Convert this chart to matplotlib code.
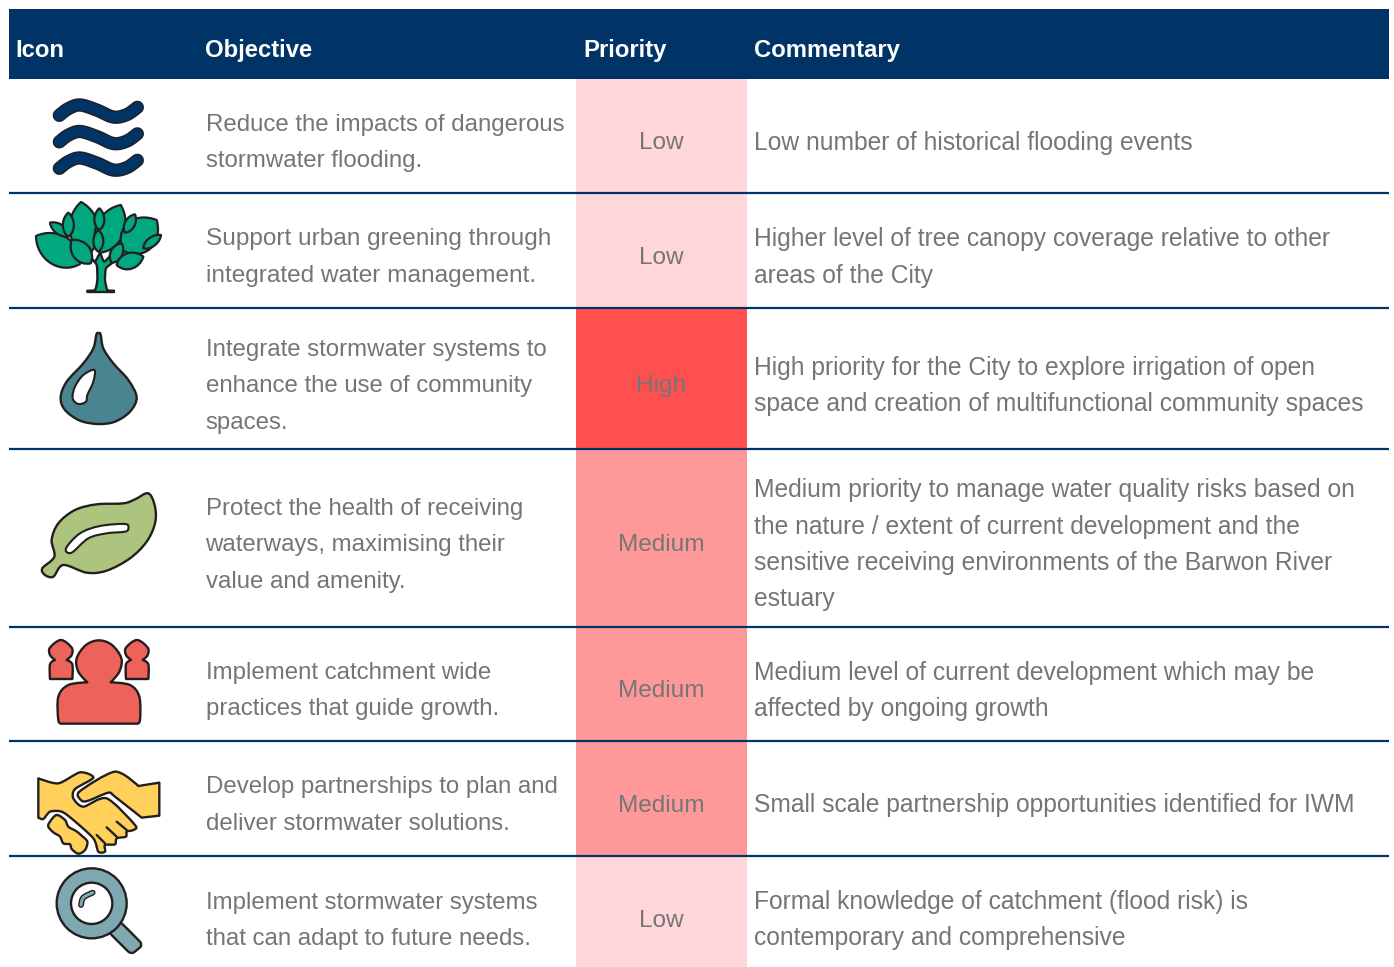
import numpy as np
import matplotlib
matplotlib.use("Agg")
import matplotlib.pyplot as plt
from matplotlib.path import Path
from matplotlib.patches import PathPatch, Rectangle

plt.rcParams['font.family'] = ['Liberation Sans', 'DejaVu Sans']

headers = ["Icon", "Objective", "Priority", "Commentary"]
objectives = [
    ["Reduce the impacts of dangerous", "stormwater flooding."],
    ["Support urban greening through", "integrated water management."],
    ["Integrate stormwater systems to", "enhance the use of community", "spaces."],
    ["Protect the health of receiving", "waterways, maximising their", "value and amenity."],
    ["Implement catchment wide", "practices that guide growth."],
    ["Develop partnerships to plan and", "deliver stormwater solutions."],
    ["Implement stormwater systems", "that can adapt to future needs."],
]
priorities = ["Low", "Low", "High", "Medium", "Medium", "Medium", "Low"]
commentary = [
    ["Low number of historical flooding events"],
    ["Higher level of tree canopy coverage relative to other", "areas of the City"],
    ["High priority for the City to explore irrigation of open",
     "space and creation of multifunctional community spaces"],
    ["Medium priority to manage water quality risks based on",
     "the nature / extent of current development and the",
     "sensitive receiving environments of the Barwon River", "estuary"],
    ["Medium level of current development which may be", "affected by ongoing growth"],
    ["Small scale partnership opportunities identified for IWM"],
    ["Formal knowledge of catchment (flood risk) is", "contemporary and comprehensive"],
]
priority_colors = {"Low": "#FFD7DA", "Medium": "#FF9999", "High": "#FF5050"}

NAVY = "#003366"
GREY = "#757575"
INK = "#231F20"
row_edges = [79, 193, 308, 449, 627, 741, 856, 967]
text_centers = [141, 255.5, 384, 543, 689, 803.5, 918.5]
objective_sizes = [17.25, 17.6, 17.25, 17.25, 17.25, 17.25, 17.25]
LINE = 36.4
FS_COMMENT = 17.7
FS_PRIORITY = 17.6
FS_HEADER = 17.2

fig = plt.figure(figsize=(13.94, 9.67), dpi=100)
ax = fig.add_axes([0, 0, 1, 1])
ax.set_xlim(0, 1394)
ax.set_ylim(967, 0)
ax.axis("off")


def smooth(pts, k=0.5):
    """Closed Catmull-Rom outline; a point listed twice becomes a sharp corner."""
    clean, corner = [], []
    for q in pts:
        if clean and tuple(clean[-1]) == tuple(q):
            corner[-1] = True
        else:
            clean.append(q)
            corner.append(False)
    p = np.array(clean, float)
    n = len(p)
    tan = [np.zeros(2) if corner[i] else (p[(i + 1) % n] - p[i - 1]) * k / 3 for i in range(n)]
    v = [p[0]]
    c = [Path.MOVETO]
    for i in range(n):
        j = (i + 1) % n
        v += [p[i] + tan[i], p[j] - tan[j], p[j]]
        c += [Path.CURVE4] * 3
    v.append(p[0])
    c.append(Path.CLOSEPOLY)
    return v, c


def shape(pts, off, color, k=0.5, lw=1.7, z=3, ec=INK):
    pts = [(x / 3 + off[0], y / 3 + off[1]) for x, y in pts]
    v, c = smooth(pts, k)
    ax.add_patch(PathPatch(Path(v, c), fc=color, ec=ec, lw=lw, zorder=z, joinstyle="round"))


def leaf(a, b, w, off, color="#00A77F", z=3):
    a = np.array(a, float)
    b = np.array(b, float)
    d = b - a
    nrm = np.array([-d[1], d[0]]) / np.hypot(*d)
    c1a, c1b = a + d * 0.25 + nrm * w, a + d * 0.8 + nrm * w
    c2a, c2b = a + d * 0.8 - nrm * w, a + d * 0.25 - nrm * w
    o = np.array(off)
    pts = [a, c1a, c1b, b, c2a, c2b, a, a]
    v = [q / 3 + o for q in pts]
    c = [Path.MOVETO] + [Path.CURVE4] * 6 + [Path.CLOSEPOLY]
    ax.add_patch(PathPatch(Path(v, c), fc=color, ec=INK, lw=1.6, zorder=z, joinstyle="round"))


def tube(pts, off, color, w_in, w_out, z=3):
    pts = np.array(pts, float) / 3 + np.array(off)
    ts = np.linspace(0, len(pts) - 1, 120)
    out = []
    P = np.vstack([pts[0], pts, pts[-1]])
    for s in ts:
        i = min(int(s), len(pts) - 2)
        u = s - i
        p0, p1, p2, p3 = P[i], P[i + 1], P[i + 2], P[i + 3]
        out.append(0.5 * (2 * p1 + (p2 - p0) * u + (2 * p0 - 5 * p1 + 4 * p2 - p3) * u ** 2
                          + (3 * p1 - p0 - 3 * p2 + p3) * u ** 3))
    out = np.array(out)
    ax.plot(out[:, 0], out[:, 1], color=INK, lw=w_out, solid_capstyle="round", zorder=z)
    ax.plot(out[:, 0], out[:, 1], color=color, lw=w_in, solid_capstyle="round", zorder=z + 0.1)


# ---------- table ----------
ax.add_patch(Rectangle((9, 9), 1380, 70, fc=NAVY, ec="none", zorder=1))
for label, x in zip(headers, [15.5, 205.5, 583.5, 754]):
    ax.text(x, 57.2, label, color="white", fontsize=FS_HEADER, fontweight="bold", va="baseline", zorder=5)

for i, pr in enumerate(priorities):
    ax.add_patch(Rectangle((576, row_edges[i]), 171, row_edges[i + 1] - row_edges[i],
                           fc=priority_colors[pr], ec="none", zorder=1))
    yc = text_centers[i]
    ax.text(661, yc + 8.3, pr, color=GREY, fontsize=FS_PRIORITY, ha="center", va="baseline", zorder=5)
    for col_x, lines, fs, dy in ((205.5, objectives[i], objective_sizes[i], 8.2),
                                 (754, commentary[i], FS_COMMENT, 8.8)):
        for j, line in enumerate(lines):
            y = yc + (j - (len(lines) - 1) / 2) * LINE + dy
            ax.text(col_x, y, line, color=GREY, fontsize=fs, va="baseline", zorder=5)

for y in row_edges[1:-1]:
    ax.plot([9, 1389], [y, y], color=NAVY, lw=1.6, solid_capstyle="butt", zorder=2)

# ---------- icons ----------
# waves
wave = [(178, 106), (205, 86), (240, 75), (290, 90), (340, 111), (380, 104), (412, 82)]
for dy in (0, 26.5, 53):
    tube(wave, (0, 80 + dy), "#003366", 7.6, 9.6)

# tree
T = (0, 80)
shape([(290, 555), (292, 600), (285, 630), (262, 632), (262, 632), (262, 636), (262, 636), (342, 636), (342, 636),
       (342, 632), (342, 632), (322, 630), (315, 600), (318, 565), (340, 545), (330, 530), (312, 545), (300, 520),
       (285, 545), (270, 530)], T, "#00A77F", k=0.3, z=2)
for a, b, w in [((243, 366), (262, 525), 58), ((362, 375), (300, 518), 56), ((470, 420), (368, 512), 68),
                ((108, 468), (240, 552), 60), ((150, 428), (208, 468), 20), ((205, 398), (205, 470), 22),
                ((298, 385), (298, 450), 20), ((405, 403), (375, 458), 20), ((215, 480), (272, 550), 36),
                ((295, 450), (295, 515), 20), ((365, 490), (335, 548), 24), ((430, 530), (350, 555), 32),
                ((483, 465), (430, 505), 18)]:
    leaf(a, b, w, T)

# water drop
D = (0, 310)
shape([(289, 74), (295, 69), (302, 74), (310, 115), (340, 160), (385, 210), (410, 262), (390, 305), (345, 335),
       (295, 342), (240, 332), (195, 300), (182, 262), (200, 215), (250, 160), (280, 115)], D, "#4A8491")
shape([(283, 180), (280, 215), (262, 255), (258, 275), (235, 282), (218, 265), (225, 230), (250, 195)],
      D, "white", z=4, lw=1.5)

# leaf
L = (0, 310)
shape([(445, 550), (465, 590), (465, 640), (440, 695), (390, 745), (320, 782), (260, 788), (190, 765),
       (160, 800), (135, 795), (127, 775), (163, 740), (155, 690), (175, 640), (225, 600), (290, 583),
       (370, 580), (405, 568)], L, "#ADC47E")
shape([(375, 642), (385, 655), (375, 665), (320, 670), (265, 685), (215, 728), (198, 715), (240, 670),
       (300, 648)], L, "white", z=4, lw=1.5)

# people
P = (0, 625)
shape([(262, 172), (262, 172), (235, 140), (230, 100), (258, 60), (297, 46), (336, 60), (364, 100), (358, 140),
       (332, 172), (332, 172), (390, 180), (418, 215), (420, 285), (410, 296), (410, 296), (185, 296), (185, 296),
       (175, 285), (175, 215), (205, 180)], P, "#ED6259")
small = [(183, 45), (215, 68), (215, 90), (200, 105), (200, 105), (217, 118), (217, 162), (217, 162), (150, 162),
         (150, 162), (150, 118), (165, 105), (165, 105), (150, 90), (150, 68)]
shape(small, P, "#ED6259")
shape([(x + 228, y) for x, y in small], P, "#ED6259")

# handshake
H = (0, 625)
shape([(115, 460), (115, 460), (175, 475), (240, 442), (280, 458), (225, 492), (220, 520), (250, 545), (320, 520),
       (405, 600), (400, 615), (380, 620), (378, 635), (350, 640), (345, 658), (315, 660), (315, 680),
       (295, 680), (280, 640), (220, 585), (185, 560), (150, 560), (130, 582), (115, 578), (115, 578)], H, "#FFD05A", k=0.4)
shape([(238, 500), (345, 440), (415, 483), (415, 483), (478, 473), (478, 473), (478, 572), (478, 572), (425, 578), (425, 578), (345, 515),
       (325, 503), (265, 527), (245, 527)], H, "#FFD05A", k=0.4, z=3.5)
shape([(150, 590), (170, 570), (195, 585), (205, 605), (228, 618), (245, 632), (262, 650), (255, 675), (235, 686),
       (215, 672), (210, 658), (190, 655), (180, 635), (160, 622), (145, 605)], H, "#FFD05A")
for a, b in [((290, 630), (315, 655)), ((320, 607), (350, 635)), ((350, 590), (380, 615))]:
    ax.plot([a[0] / 3, b[0] / 3], [a[1] / 3 + 625, b[1] / 3 + 625], color=INK, lw=1.7,
            solid_capstyle="round", zorder=4)

# magnifier
M = (0, 625)
shape([(360, 890), (360, 890), (420, 950), (422, 965), (400, 983), (385, 980), (330, 925), (330, 925)], M, "#7EA9B0", k=0.25)
ax.add_patch(plt.Circle((275 / 3, 835 / 3 + 625), 105 / 3, fc="#7EA9B0", ec=INK, lw=1.7, zorder=3.2))
ax.add_patch(plt.Circle((275 / 3, 835 / 3 + 625), 62 / 3, fc="white", ec=INK, lw=1.7, zorder=3.4))
tube([(243, 840), (250, 818), (278, 803)], M, "#7EA9B0", 2.2, 4.2, z=3.6)

fig.savefig("out.png", dpi=100, facecolor="white")
